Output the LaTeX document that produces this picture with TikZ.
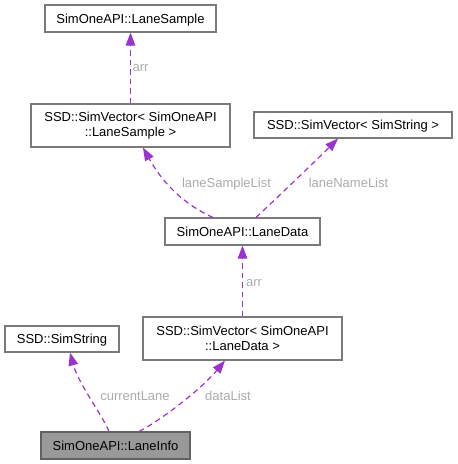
\documentclass[tikz,border=0pt]{standalone}
\usepackage{fontspec}
\setmainfont{Liberation Sans}
\usetikzlibrary{arrows.meta}
\definecolor{edgecol}{HTML}{9A32CD}
\definecolor{labcol}{HTML}{ABABAB}
\definecolor{boxline}{HTML}{7A7A7A}
\definecolor{infofill}{HTML}{999999}
\begin{document}
\begin{tikzpicture}[x=1bp,y=-1bp,
  box/.style={draw=boxline, line width=1.1bp, fill=white, inner sep=0pt, align=center,
    font=\fontsize{13bp}{15.4bp}\selectfont},
  onebox/.style={box, text height=9.4bp, text depth=0pt},
  dep/.style={draw=edgecol, line width=1.2bp, dash pattern=on 5.5bp off 4bp,
    -{Triangle[length=13bp,width=9.5bp]}},
  lab/.style={text=labcol, inner sep=0pt, anchor=base, font=\fontsize{13bp}{15.4bp}\selectfont}]
\useasboundingbox (0,0) rectangle (458,464);

\node[onebox, minimum width=171bp, minimum height=27bp] (LS) at (130.5,18.5) {SimOneAPI::LaneSample};
\node[box, minimum width=199bp, minimum height=43bp] (VLS) at (130.5,125.5) {SSD::SimVector< SimOneAPI\\::LaneSample >};
\node[onebox, minimum width=198bp, minimum height=26bp] (VSS) at (353,125) {SSD::SimVector< SimString >};
\node[onebox, minimum width=155bp, minimum height=27bp] (LD) at (242.5,231.5) {SimOneAPI::LaneData};
\node[onebox, minimum width=114bp, minimum height=26bp] (SS) at (62,339) {SSD::SimString};
\node[box, minimum width=199bp, minimum height=43bp] (VLD) at (242.5,338.5) {SSD::SimVector< SimOneAPI\\::LaneData >};
\node[onebox, draw=boxline!80!black, fill=infofill, minimum width=149bp, minimum height=27bp] (LI) at (115.5,445.5) {SimOneAPI::LaneInfo};

\draw[dep] (VLS.north) -- (LS.south);
\draw[dep] ([xshift=-29.5bp]LD.north) .. controls +(-18,-8) and +(25,45) .. ([xshift=12.5bp]VLS.south);
\draw[dep] ([xshift=13.5bp]LD.north) .. controls +(14,-13) and +(-22,22) .. ([xshift=-15bp]VSS.south);
\draw[dep] (VLD.north) -- (LD.south);
\draw[dep] ([xshift=-6.5bp]LI.north) .. controls +(-6,-15) and +(8,30) .. ([xshift=8bp]SS.south);
\draw[dep] ([xshift=23.5bp]LI.north) .. controls +(20,-10) and +(-25,30) .. ([xshift=-17.5bp]VLD.south);

\node[lab] (l1) at (140.5,71.7) {arr};
\node[lab] (l2) at (226.5,187.3) {laneSampleList};
\node[lab] (l3) at (348.5,187.3) {laneNameList};
\node[lab] (l4) at (254,286) {arr};
\node[lab] (l5) at (135,400) {currentLane};
\node[lab] (l6) at (228,400) {dataList};
\end{tikzpicture}
\end{document}
